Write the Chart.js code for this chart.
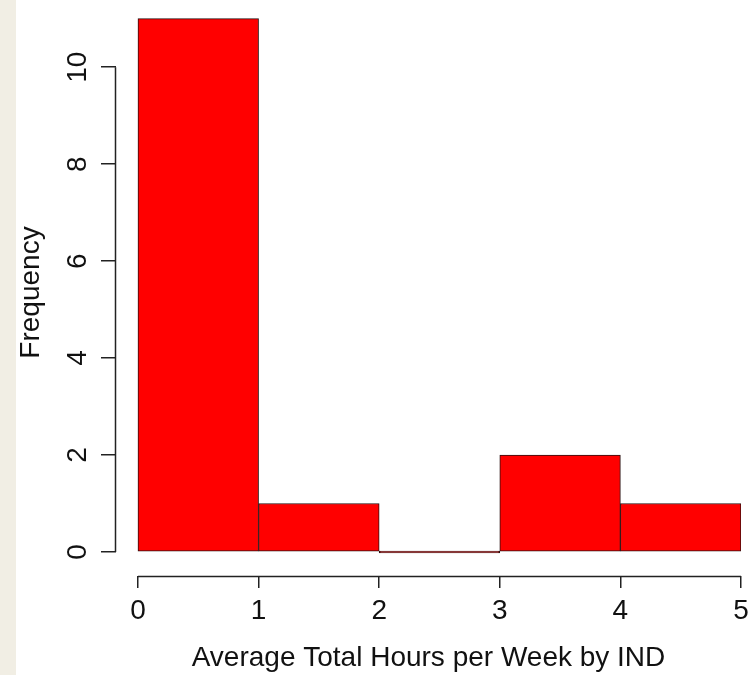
<!DOCTYPE html>
<html>
<head>
<meta charset="utf-8">
<script src="https://cdn.jsdelivr.net/npm/chart.js@4.4.0/dist/chart.umd.min.js"></script>
<style>
  html, body { margin: 0; padding: 0; }
  body { width: 753px; height: 675px; background: linear-gradient(to right, #F1EEE4 16px, #ffffff 16px); }
  #wrap { width: 753px; height: 675px; position: relative; }
</style>
</head>
<body>
<div id="wrap"><canvas id="c" width="753" height="675"></canvas></div>
<script>
// Histogram bins (hours) and counts
const binCenters = [0.5, 1.5, 2.5, 3.5, 4.5];
const counts = [11, 1, 0, 2, 1];
const xTicks = [0, 1, 2, 3, 4, 5];
const yTicks = [0, 2, 4, 6, 8, 10];
const xTitle = 'Average Total Hours per Week by IND';
const yTitle = 'Frequency';

const FONT = '"Liberation Sans", Arial, sans-serif';
const INK = '#111111';

const rAxes = {
  id: 'rAxes',
  afterDraw(chart) {
    const ctx = chart.ctx, xs = chart.scales.x, ys = chart.scales.y;
    ctx.save();
    ctx.strokeStyle = '#222';
    ctx.lineWidth = 1.5;
    const yb = chart.chartArea.bottom + 0.5;
    ctx.beginPath();
    ctx.moveTo(xs.getPixelForValue(xTicks[0]), yb);
    ctx.lineTo(xs.getPixelForValue(xTicks[xTicks.length - 1]), yb);
    ctx.stroke();
    const xl = chart.chartArea.left - 0.5;
    ctx.beginPath();
    ctx.moveTo(xl, ys.getPixelForValue(yTicks[0]));
    ctx.lineTo(xl, ys.getPixelForValue(yTicks[yTicks.length - 1]));
    ctx.stroke();
    ctx.restore();
  }
};

new Chart(document.getElementById('c'), {
  type: 'bar',
  data: {
    datasets: [{
      data: binCenters.map((x, i) => ({ x: x, y: counts[i] })),
      backgroundColor: '#FF0000',
      borderColor: '#2a1010',
      borderWidth: 1,
      borderSkipped: false,
      minBarLength: 2,
      barPercentage: 1.0,
      categoryPercentage: 1.0
    }]
  },
  options: {
    responsive: false,
    animation: false,
    events: [],
    layout: { padding: { top: 9, right: 12, left: 0, bottom: 0 } },
    plugins: { legend: { display: false }, tooltip: { enabled: false } },
    scales: {
      x: {
        type: 'linear',
        offset: false,
        min: -0.182,
        max: 5,
        afterBuildTicks: s => { s.ticks = xTicks.map(v => ({ value: v })); },
        afterFit: s => { s.height = 99; s.paddingLeft = 0; s.paddingRight = 0; },
        grid: { display: true, offset: false, drawOnChartArea: false, drawTicks: true, tickLength: 12, color: '#222', lineWidth: 1.5 },
        border: { display: false },
        ticks: { font: { family: FONT, size: 28 }, color: INK, padding: 6, maxRotation: 0, minRotation: 0 },
        title: { display: true, text: xTitle, font: { family: FONT, size: 28 }, color: INK, padding: { top: 4, bottom: 0 } }
      },
      y: {
        type: 'linear',
        min: -0.495,
        max: 11.2,
        afterBuildTicks: s => { s.ticks = yTicks.map(v => ({ value: v })); },
        afterFit: s => { s.width = 116; s.paddingTop = 0; s.paddingBottom = 0; },
        grid: { display: true, drawOnChartArea: false, drawTicks: true, tickLength: 15, color: '#222', lineWidth: 1.5 },
        border: { display: false },
        ticks: { font: { family: FONT, size: 28 }, color: INK, padding: 7, minRotation: 90, maxRotation: 90, crossAlign: 'center' },
        title: { display: true, text: yTitle, font: { family: FONT, size: 28 }, color: INK, padding: { top: 14, bottom: 4 } }
      }
    }
  },
  plugins: [rAxes]
});
</script>
</body>
</html>
